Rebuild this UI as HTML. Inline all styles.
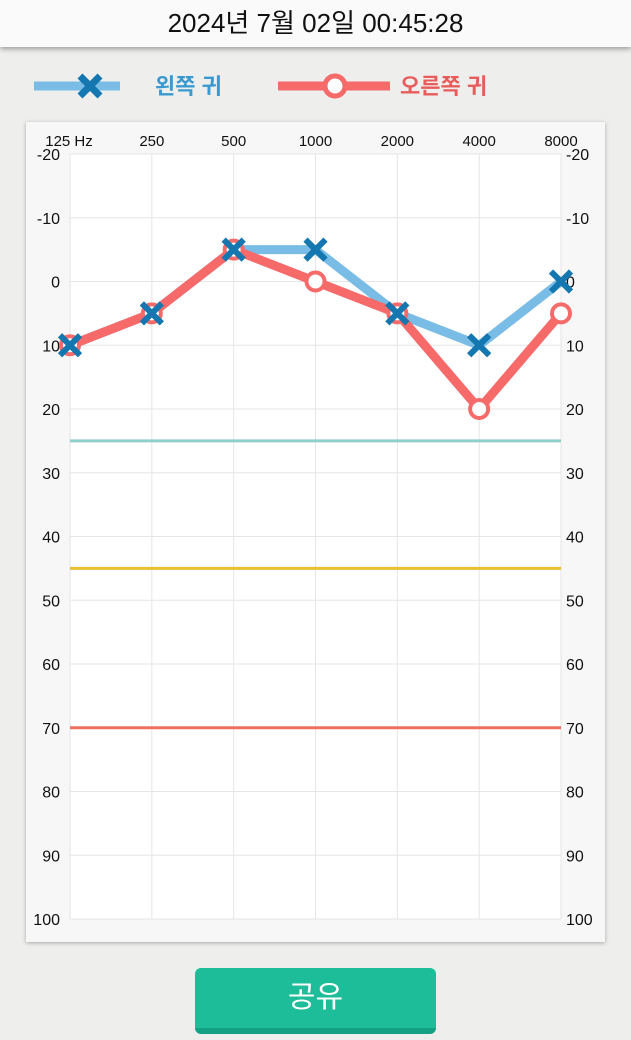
<!DOCTYPE html>
<html><head><meta charset="utf-8"><style>
body{margin:0;width:631px;height:1040px;background:#eeeeec;font-family:"Liberation Sans","Noto Sans CJK KR",sans-serif;position:relative;overflow:hidden}
#hdr{position:absolute;left:0;top:0;width:631px;height:47px;background:#fafafa;box-shadow:0 2px 5px rgba(0,0,0,.35);text-align:center;line-height:47px;font-size:26px;color:#111}
#card{position:absolute;left:26px;top:122px;width:579px;height:820px;background:#f7f7f7;box-shadow:0 1px 4px rgba(0,0,0,.3)}
#btn{position:absolute;left:195px;top:968px;width:241px;height:60px;background:#1dbd9a;border-radius:6px;border-bottom:6px solid #14a082;color:#fff;font-size:30px;text-align:center;line-height:60px}
</style></head><body>
<div id="hdr">2024년 7월 02일 00:45:28</div>
<svg width="631" height="120" style="position:absolute;left:0;top:0">
<g>
<line x1="34" y1="86" x2="120" y2="86" stroke="#79bde6" stroke-width="9"/>
<path d="M80 76 L100 96 M100 76 L80 96" stroke="#1477b0" stroke-width="7"/>
<text x="155" y="94" font-size="22" font-weight="bold" fill="#3a9ad0">왼쪽 귀</text></g>
<g>
<line x1="278" y1="86" x2="390" y2="86" stroke="#f66a6a" stroke-width="9"/>
<circle cx="335" cy="86" r="10" fill="#fff" stroke="#f66a6a" stroke-width="5"/>
<text x="400" y="94" font-size="22" font-weight="bold" fill="#e85c5c">오른쪽 귀</text></g>
</svg>
<div id="card"></div>
<svg id="chart" width="631" height="1040" style="position:absolute;left:0;top:0"></svg>
<div id="btn">공유</div>
<script>
const freqs=["125 Hz","250","500","1000","2000","4000","8000"];
const yTicks=[-20,-10,0,10,20,30,40,50,60,70,80,90,100];
const leftEar=[10,5,-5,-5,5,10,0];
const rightEar=[10,5,-5,0,5,20,5];
const refLevels=[25,45,70];
const refColors=["#8fd0cc","#e8c030","#f07060"];
const X0=70,X1=561,Y0=154,Y1=919;
const xs=i=>X0+(X1-X0)*i/(freqs.length-1);
const ys=v=>Y0+(Y1-Y0)*(v+20)/120;
const svg=document.getElementById('chart');const NS="http://www.w3.org/2000/svg";
function mk(t,a,p){const e=document.createElementNS(NS,t);for(const k in a)e.setAttribute(k,a[k]);(p||svg).appendChild(e);return e;}
mk('rect',{x:X0,y:Y0,width:X1-X0,height:Y1-Y0,fill:'#fff'});
yTicks.forEach(v=>{const l=mk('line',{x1:X0,x2:X1,y1:ys(v),y2:ys(v),stroke:'#e6e6e6'});


[[60,'end'],[566,'start']].forEach(([x,a])=>{const t=mk('text',{x:x+(a==='end'?0:0),y:ys(v)+6,'font-size':16,'text-anchor':a==='end'?'end':'start',fill:'#111'});t.textContent=v;

});});
freqs.forEach((f,i)=>{const l=mk('line',{x1:xs(i),x2:xs(i),y1:Y0,y2:Y1,stroke:'#e6e6e6'});


const t=mk('text',{x:i==0?69:xs(i),y:146,'font-size':15,'text-anchor':'middle',fill:'#111'});t.textContent=f;

});
refLevels.forEach((v,i)=>{const l=mk('line',{x1:X0,x2:X1,y1:ys(v),y2:ys(v),stroke:refColors[i],'stroke-width':3});

});
const lp=mk('polyline',{points:leftEar.map((v,i)=>xs(i)+','+ys(v)).join(' '),fill:'none',stroke:'#79bde6','stroke-width':9,'stroke-linejoin':'round'});


const rp=mk('polyline',{points:rightEar.map((v,i)=>xs(i)+','+ys(v)).join(' '),fill:'none',stroke:'#f66a6a','stroke-width':9,'stroke-linejoin':'round'});


rightEar.forEach((v,i)=>{const c=mk('circle',{cx:xs(i),cy:ys(v),r:9,fill:'#fff',stroke:'#f66a6a','stroke-width':4});

});
leftEar.forEach((v,i)=>{const x=xs(i),y=ys(v);const p=mk('path',{d:`M${x-10} ${y-10}L${x+10} ${y+10}M${x+10} ${y-10}L${x-10} ${y+10}`,stroke:'#1477b0','stroke-width':6});

});
</script>
</body></html>
